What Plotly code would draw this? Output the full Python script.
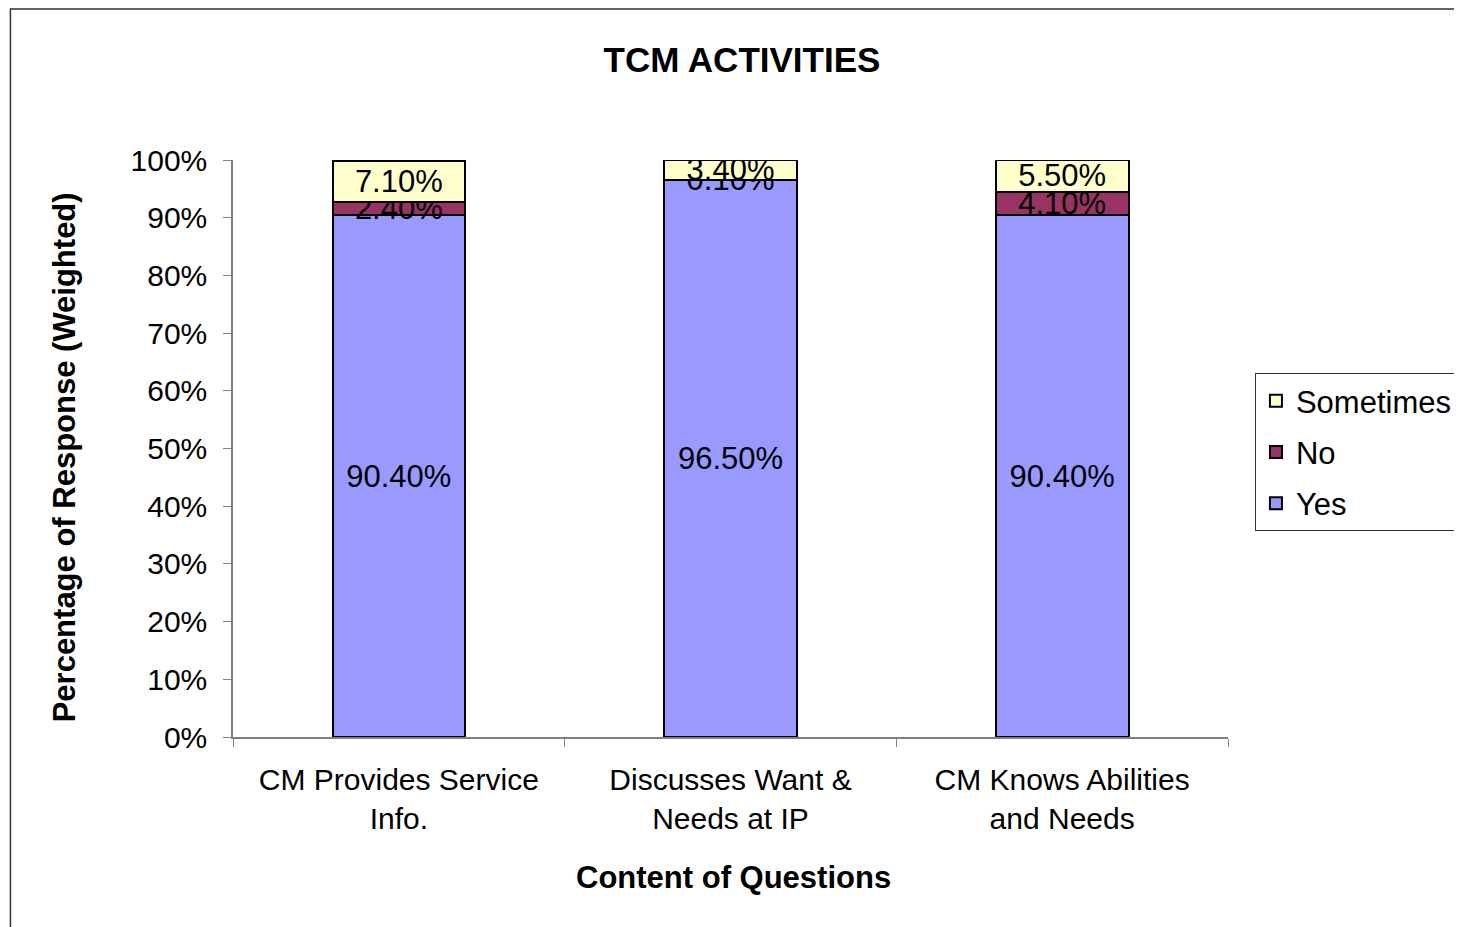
import plotly.graph_objects as go

categories = ["CM Provides Service<br>Info.", "Discusses Want &<br>Needs at IP", "CM Knows Abilities<br>and Needs"]
yes_vals = [90.4, 96.5, 90.4]
no_vals = [2.4, 0.1, 4.1]
sometimes_vals = [7.1, 3.4, 5.5]
y_ticks = [0, 10, 20, 30, 40, 50, 60, 70, 80, 90, 100]

FONT = "Liberation Sans, Arial, sans-serif"
FS_TICK = 30
FS_LAB = 31

fig = go.Figure()
series = [("Yes", yes_vals, "#9999FF", 3), ("No", no_vals, "#993366", 2), ("Sometimes", sometimes_vals, "#FFFFCC", 1)]
for name, vals, col, rank in series:
    fig.add_trace(go.Bar(
        name=name, x=categories, y=vals, legendgroup=name, legendrank=rank,
        marker=dict(color=col, line=dict(color="black", width=2)),
        text=[f"{v:.2f}%" for v in vals],
        textposition="inside", insidetextanchor="middle", textangle=0,
        constraintext="none",
        textfont=dict(family=FONT, size=FS_LAB, color="black"),
        width=0.4,
    ))

OFF = 8  # page offset in screenshot
W, H = 1462, 927
L, T = 233 - OFF, 160 - OFF
pw, ph = 997, 577
R = W - L - pw
B = H - T - ph

def px_x(p):
    return (p - OFF - L) / pw

def px_y(p):
    return (T + ph - (p - OFF)) / ph

fig.update_layout(
    width=W, height=H, barmode="stack",
    margin=dict(l=L, r=R, t=T, b=B),
    plot_bgcolor="white", paper_bgcolor="white",
    font=dict(family=FONT, size=FS_TICK, color="black"),
    title=dict(text="<b>TCM ACTIVITIES</b>", x=px_x(743), xref="paper", xanchor="center",
               y=1 - (60 - OFF) / H, yref="container", yanchor="middle",
               font=dict(family=FONT, size=35, color="black")),
    xaxis=dict(showline=True, linecolor="#808080", linewidth=1.5,
               ticks="outside", tickson="boundaries", ticklen=8, tickcolor="#808080",
               ticklabelstandoff=15,
               tickfont=dict(family=FONT, size=FS_TICK, color="black"), showgrid=False),
    yaxis=dict(range=[0, 100], tickvals=y_ticks, ticktext=[f"{v}%" for v in y_ticks],
               showline=True, linecolor="#808080", linewidth=1.5,
               ticks="outside", ticklen=8, tickcolor="#808080",
               ticklabelstandoff=10,
               tickfont=dict(family=FONT, size=FS_TICK, color="black"), showgrid=False, zeroline=False),
    legend=dict(traceorder="grouped", tracegroupgap=8,
                x=px_x(1257), y=px_y(373), xanchor="left", yanchor="top",
                bgcolor="white", bordercolor="#333333", borderwidth=1,
                font=dict(family=FONT, size=FS_LAB, color="black")),
    annotations=[
        dict(text="<b>Percentage of Response (Weighted)</b>", xref="paper", yref="paper",
             x=px_x(64), y=px_y(457), textangle=-90, showarrow=False,
             font=dict(family=FONT, size=31, color="black"), xanchor="center", yanchor="middle"),
        dict(text="<b>Content of Questions</b>", xref="paper", yref="paper",
             x=px_x(735), y=px_y(877), showarrow=False,
             font=dict(family=FONT, size=31, color="black"), xanchor="center", yanchor="middle"),
    ],
    shapes=[dict(type="rect", xref="paper", yref="paper",
                 x0=px_x(10), y0=px_y(945), x1=px_x(1480), y1=px_y(9),
                 line=dict(color="#333333", width=1.5), fillcolor="rgba(0,0,0,0)", layer="below")],
)

fig.write_html("out.html")
